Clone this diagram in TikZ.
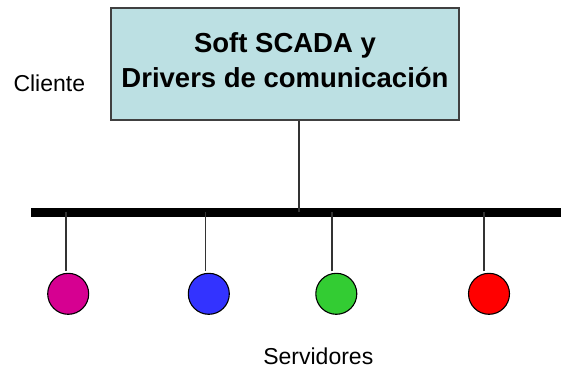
\documentclass[tikz,border=0pt]{standalone}
\usepackage{fontspec}
\setmainfont{Liberation Sans}
\usetikzlibrary{positioning}
\definecolor{boxfill}{RGB}{188,224,227}
\definecolor{mymagenta}{RGB}{214,0,145}
\definecolor{myblue}{RGB}{51,51,255}
\definecolor{mygreen}{RGB}{51,204,51}
\definecolor{myred}{RGB}{255,0,0}
\tikzstyle{mybox}=[draw=black!75,fill=boxfill,line width=1.3pt,align=center,inner sep=0pt,
                   minimum width=348pt,minimum height=112pt,
                   font=\bfseries\fontsize{27.5}{34.6}\selectfont]
\tikzstyle{myserver}=[circle,draw=black,fill=#1,line width=1.1pt,minimum size=41pt,inner sep=0pt]
\tikzstyle{mylabel}=[font=\fontsize{23}{28}\selectfont,inner sep=0pt,anchor=base]
\tikzstyle{mywire}=[black!80,line width=1.2pt]
\tikzstyle{mybus}=[black,line width=9pt]

\begin{document}
\begin{tikzpicture}[x=1pt,y=-1pt]
  \useasboundingbox (0,0) rectangle (561,367);

  % client
  \node[mybox] (scada) at (285,64) {
    Soft SCADA y \\
    Drivers de comunicación\rule[-8pt]{0pt}{8pt}
  };
  \node[mylabel] (cliente) at (49.3,91) {Cliente};

  % bus
  \coordinate (busL) at (31,212);
  \coordinate (busR) at (561,212);
  \draw[mybus] (busL) -- (busR);
  \coordinate (tap) at (299,212);
  \draw[mywire] (tap |- scada.south) -- (tap);

  % servers
  \foreach \n/\c/\x/\d in {1/mymagenta/68.2/-2.2, 2/myblue/208.8/-3.1,
                           3/mygreen/336.3/-4.3, 4/myred/489/-5}{
    \node[myserver=\c] (s\n) at (\x,293.8) {};
    \draw[mywire] (s\n.north) ++(\d,-1.5) coordinate (d\n) -- (d\n |- busL);
  }
  \node[mylabel] (servidores) at (318.3,364) {Servidores};

\end{tikzpicture}
\end{document}
